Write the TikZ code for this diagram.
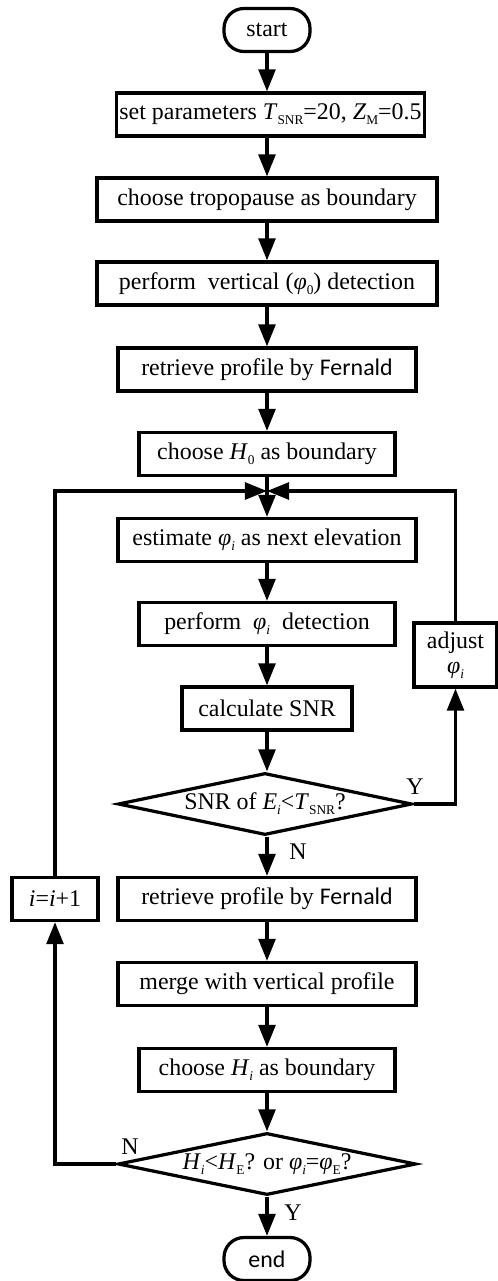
\documentclass[tikz,border=0pt]{standalone}
\usepackage{fontspec}
\setmainfont{Liberation Serif}
\newfontfamily\fernfont{Carlito}
\usepackage{tikz}
\usetikzlibrary{arrows.meta, positioning, shapes.geometric}

\newcommand{\fsize}{\fontsize{17}{20}\selectfont}
\newcommand{\lowidx}[1]{\raisebox{-0.45ex}{\fontsize{9.5}{10}\selectfont #1}}
\newcommand{\vphi}{\textit{φ}}

\begin{document}
\begin{tikzpicture}[
    x=0.025cm, y=-0.025cm,
    every node/.style={font=\fsize},
    term/.style={draw, line width=2.3pt, rounded corners=5mm, minimum width=2.15cm, minimum height=1.075cm, inner sep=0pt},
    proc/.style={draw, line width=2.3pt, minimum height=1.075cm, inner xsep=2pt, inner ysep=0pt},
    dec/.style={draw, diamond, line width=2.3pt, aspect=4.7, inner sep=0pt, minimum height=1.55cm},
    arr/.style={-{Triangle[length=5.5mm, width=4.2mm]}, line width=2.3pt}
]
    \useasboundingbox (0,0) rectangle (498,1281);

    % Main column
    \node[term] (start) at (267, 30) {start};
    \node[proc, minimum width=7.625cm] (setp) at (270.5, 114.5) {set parameters \textit{T}\lowidx{SNR}=20, \textit{Z}\lowidx{M}=0.5};
    \node[proc, minimum width=8.5cm] (tropo) at (267, 199.5) {choose tropopause as boundary};
    \node[proc, minimum width=8.5cm] (vert) at (267, 283.5) {perform\ \ vertical (\vphi\lowidx{0}) detection};
    \node[proc, minimum width=7.45cm] (fern0) at (267, 369.5) {retrieve profile by {\fernfont Fernald}};
    \node[proc, minimum width=6.4cm] (hzero) at (267, 454) {choose \textit{H}\lowidx{0} as boundary};
    \coordinate (join) at (267, 491);

    % Loop
    \node[proc, minimum width=7.45cm] (est) at (267, 540) {estimate \vphi\lowidx{\textit{i}} as next elevation};
    \node[proc, minimum width=6.4cm] (detect) at (267, 624) {perform \ \vphi\lowidx{\textit{i}} \ detection};
    \node[proc, minimum width=4.25cm] (snr) at (267, 708.5) {calculate SNR};
    \node[dec, minimum width=7.35cm] (chk) at (265, 804) {SNR of \textit{E}\lowidx{\textit{i}}<\textit{T}\lowidx{SNR}?};
    \node[proc, minimum width=2.075cm, minimum height=1.6cm, align=center] (adj) at (455.5, 655) {adjust\\[-2pt]\vphi\lowidx{\textit{i}}};
    \node[proc, minimum width=7.45cm] (fern) at (267, 899) {retrieve profile by {\fernfont Fernald}};
    \node[proc, minimum width=2.15cm] (inc) at (55, 899) {\textit{i}=\textit{i}+1};
    \node[proc, minimum width=7.45cm] (merge) at (267, 984) {merge with vertical profile};
    \node[proc, minimum width=6.4cm] (hsel) at (267, 1070) {choose \textit{H}\lowidx{\textit{i}} as boundary};
    \node[dec, minimum width=7.45cm] (done) at (267, 1164) {\textit{H}\lowidx{\textit{i}}<\textit{H}\lowidx{E}? or \vphi\lowidx{\textit{i}}=\vphi\lowidx{E}?};
    \node[term] (finish) at (267, 1259) {\fernfont end};

    % Branch labels
    \node (yes1) at (415, 787) {Y};
    \node (no1) at (298, 852) {N};
    \node (no2) at (130, 1147) {N};
    \node (yes2) at (293, 1213) {Y};

    % Connections
    \draw[arr] (start) -- (start |- setp.north);
    \draw[arr] (setp.south -| tropo) -- (tropo);
    \draw[arr] (tropo) -- (vert);
    \draw[arr] (vert) -- (fern0);
    \draw[arr] (fern0) -- (hzero);
    \draw[arr] (hzero) -- (est);
    \draw[arr] (est) -- (detect);
    \draw[arr] (detect) -- (snr);
    \draw[arr] (snr) -- (chk.north -| snr);
    \draw[arr] (chk.south -| fern) -- (fern);
    \draw[arr] (fern) -- (merge);
    \draw[arr] (merge) -- (hsel);
    \draw[arr] (hsel) -- (done);
    \draw[arr] (done) -- (finish);

    % Feedback
    \draw[arr] (chk.east) -| (adj.south);
    \draw[arr] (adj.north) |- (join);
    \draw[arr] (done.west) -| (inc.south);
    \draw[arr] (inc.north) |- (join);
\end{tikzpicture}
\end{document}
